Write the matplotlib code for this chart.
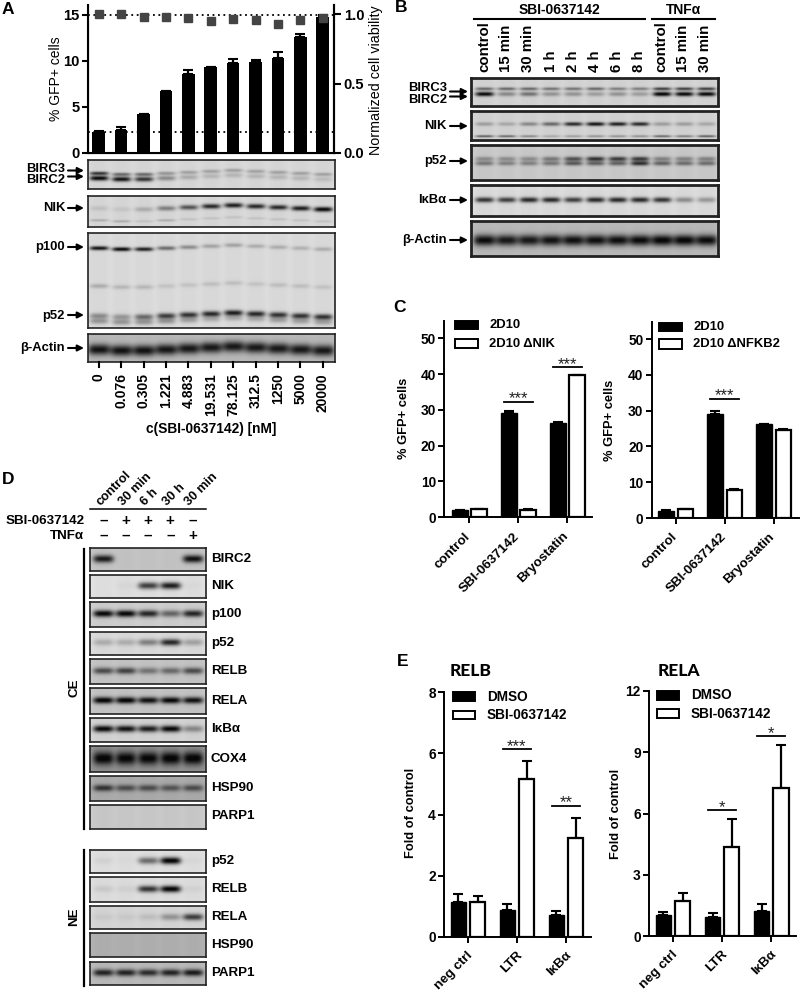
import numpy as np
import matplotlib
matplotlib.use("Agg")
import matplotlib.pyplot as plt

W, H = 800, 993
plt.rcParams["font.family"] = ["Liberation Sans", "DejaVu Sans"]
plt.rcParams["font.weight"] = "bold"
plt.rcParams["axes.unicode_minus"] = False

# panel A
A_DOSES = ["0", "0.076", "0.305", "1.221", "4.883", "19.531", "78.125", "312.5", "1250", "5000", "20000"]
A_GFP = [2.3, 2.5, 4.2, 6.7, 8.6, 9.3, 9.7, 9.85, 10.3, 12.6, 14.7]
A_GFP_ERR = [0.05, 0.3, 0.05, 0.05, 0.4, 0.05, 0.5, 0.25, 0.65, 0.3, 0.2]
A_VIAB = [1.0, 1.0, 0.976, 0.981, 0.974, 0.947, 0.967, 0.955, 0.928, 0.957, 0.969]

A_BIRC3 = [0.75, 0.5, 0.5, 0.3, 0.25, 0.25, 0.25, 0.25, 0.25, 0.25, 0.25]
A_BIRC2 = [0.95, 0.9, 0.75, 0.35, 0.2, 0.15, 0.15, 0.15, 0.15, 0.15, 0.12]
A_NIK = [0.1, 0.08, 0.2, 0.4, 0.6, 0.8, 0.85, 0.8, 0.8, 0.85, 0.95]
A_NIK_LOW = [0.2, 0.2, 0.1, 0.2, 0.1, 0.1, 0.1, 0.1, 0.1, 0.1, 0.1]
A_P100 = [0.9, 0.95, 0.85, 0.5, 0.35, 0.25, 0.25, 0.2, 0.2, 0.18, 0.2]
A_MID = [0.2, 0.15, 0.15, 0.1, 0.1, 0.12, 0.12, 0.1, 0.12, 0.12, 0.1]
A_P52 = [0.35, 0.3, 0.5, 0.7, 0.75, 0.8, 0.85, 0.8, 0.75, 0.75, 0.75]
A_P52_LOW = [0.3, 0.3, 0.3, 0.3, 0.25, 0.2, 0.2, 0.2, 0.25, 0.25, 0.25]
A_ACTIN = [0.88, 0.88, 0.88, 0.86, 0.85, 0.85, 0.85, 0.85, 0.85, 0.85, 0.85]

# panel B
B_LANES = ["control", "15 min", "30 min", "1 h", "2 h", "4 h", "6 h", "8 h", "control", "15 min", "30 min"]
B_BIRC3 = [0.5, 0.5, 0.5, 0.45, 0.45, 0.5, 0.4, 0.4, 0.7, 0.7, 0.7]
B_BIRC2 = [0.95, 0.35, 0.45, 0.3, 0.3, 0.25, 0.3, 0.25, 0.98, 0.95, 0.95]
B_NIK = [0.25, 0.2, 0.35, 0.5, 0.8, 0.9, 0.85, 0.8, 0.25, 0.25, 0.2]
B_NIK_LOW = [0.55, 0.5, 0.35, 0.2, 0.25, 0.3, 0.3, 0.3, 0.5, 0.4, 0.55]
B_P52_UP = [0.3, 0.3, 0.3, 0.4, 0.6, 0.75, 0.7, 0.7, 0.35, 0.35, 0.35]
B_P52_LOW = [0.4, 0.35, 0.35, 0.4, 0.55, 0.5, 0.5, 0.75, 0.5, 0.45, 0.45]
B_IKB = [0.75, 0.7, 0.8, 0.8, 0.7, 0.8, 0.8, 0.8, 0.75, 0.35, 0.3]
B_ACTIN = [0.92, 0.85, 0.85, 0.88, 0.9, 0.9, 0.9, 0.92, 0.95, 0.95, 0.92]

# panel C
C_GROUPS = ["control", "SBI-0637142", "Bryostatin"]
C1_WT = [2.0, 29.0, 26.2]
C1_WT_ERR = [0.1, 0.8, 0.3]
C1_KO = [2.3, 2.1, 39.8]
C1_KO_ERR = [0.05, 0.1, 0.05]
C2_WT = [2.0, 29.0, 26.2]
C2_WT_ERR = [0.1, 0.8, 0.2]
C2_KO = [2.4, 7.8, 24.5]
C2_KO_ERR = [0.2, 0.4, 0.5]

# panel D
D_LANES = ["control", "30 min", "6 h", "30 h", "30 min"]
D_SBI = ["–", "+", "+", "+", "–"]
D_TNF = ["–", "–", "–", "–", "+"]
D_NAMES_CE = ["BIRC2", "NIK", "p100", "p52", "RELB", "RELA", "IκBα", "COX4", "HSP90", "PARP1"]
D_BANDS_CE = [
    [0.85, 0, 0, 0, 0.9],
    [0, 0.03, 0.7, 0.85, 0.02],
    [0.95, 0.95, 0.8, 0.5, 0.8],
    [0.2, 0.2, 0.4, 0.8, 0.25],
    [0.6, 0.65, 0.4, 0.45, 0.6],
    [0.98, 0.98, 0.9, 0.95, 0.9],
    [0.95, 0.9, 0.85, 0.95, 0.35],
    [0.98, 0.95, 0.95, 0.98, 0.98],
    [0.7, 0.55, 0.55, 0.5, 0.55],
    [0, 0, 0, 0, 0],
]
D_NAMES_NE = ["p52", "RELB", "RELA", "HSP90", "PARP1"]
D_BANDS_NE = [
    [0.05, 0.02, 0.5, 0.98, 0.03],
    [0.08, 0.05, 0.75, 0.98, 0.04],
    [0.05, 0.05, 0.1, 0.3, 0.7],
    [0, 0, 0, 0, 0],
    [0.8, 0.8, 0.75, 0.8, 0.85],
]

# panel E
E_GROUPS = ["neg ctrl", "LTR", "IκBα"]
E1_DMSO = [1.15, 0.87, 0.72]
E1_DMSO_ERR = [0.25, 0.2, 0.12]
E1_SBI = [1.13, 5.15, 3.22]
E1_SBI_ERR = [0.2, 0.6, 0.68]
E2_DMSO = [1.05, 0.92, 1.22]
E2_DMSO_ERR = [0.12, 0.2, 0.35]
E2_SBI = [1.72, 4.35, 7.25]
E2_SBI_ERR = [0.38, 1.4, 2.1]


def px_axes(x0, y0, x1, y1):
    return fig.add_axes([x0 / W, 1 - y1 / H, (x1 - x0) / W, (y1 - y0) / H])


def draw_blot(box, first, step, bg, bands, shift=None, edge=1.2, lane_w=0.42):
    # bands: (y fraction, sigma in px, intensity per lane)
    x0, y0, x1, y1 = box
    nx, ny = int(round(x1 - x0)) * 2, int(round(y1 - y0)) * 2
    xs = x0 + (np.arange(nx) + 0.5) / 2
    ys = (np.arange(ny) + 0.5) / 2
    dark = np.zeros((ny, nx))
    n = len(bands[0][2])
    for i in range(n):
        cx = first + i * step
        prof = np.exp(-(((xs - cx) / (lane_w * step)) ** 4))
        dy = shift[i] if shift is not None else 0
        dark += 0.03 * prof[None, :]
        for frac, sig, vals in bands:
            yc = frac * (y1 - y0) + dy
            dark += vals[i] * np.exp(-(((ys - yc) / sig) ** 2))[:, None] * prof[None, :]
    img = np.clip(bg * (1 - dark), 0.03, 1)
    ax = px_axes(x0, y0, x1, y1)
    ax.imshow(img, cmap="gray", vmin=0, vmax=1, aspect="auto", interpolation="bilinear")
    ax.set_xticks([])
    ax.set_yticks([])
    for s in ax.spines.values():
        s.set_linewidth(edge)
        s.set_color("#222222")
    return ax


def arrow(x0, x1, y):
    over.annotate("", xy=(x1, y), xytext=(x0, y),
                  arrowprops=dict(arrowstyle="-|>", color="k", lw=1.5, shrinkA=0, shrinkB=0, mutation_scale=9))


def grouped_bars(box, xlim, ylim, yticks, fs, names, black, black_err, white, white_err, ylabel_xy, ylabel, nudge):
    ax = px_axes(*box)
    pos = np.arange(len(names))
    off, bw = 0.196, 0.315
    ax.bar(pos - off, black, bw, color="k", edgecolor="k", linewidth=1.0)
    ax.bar(pos + off, white, bw, color="w", edgecolor="k", linewidth=1.6)
    ax.errorbar(pos - off, black, yerr=[np.zeros(3), black_err], fmt="none", ecolor="k", elinewidth=1.6, capsize=3.5, capthick=1.5)
    ax.errorbar(pos + off, white, yerr=[np.zeros(3), white_err], fmt="none", ecolor="k", elinewidth=1.6, capsize=3.5, capthick=1.5)
    ax.set_xlim(*xlim)
    ax.set_ylim(*ylim)
    ax.set_yticks(yticks)
    ax.set_xticks(pos)
    ax.set_xticklabels([])
    # tick labels sit a bit off the ticks in the original, so place them by hand
    for p, name in zip(pos, names):
        ax.annotate(name, (p, 0), xytext=nudge, textcoords="offset pixels", rotation=45,
                    ha="right", va="top", rotation_mode="anchor", fontsize=fs, annotation_clip=False)
    ax.tick_params(axis="y", labelsize=fs + 0.3, width=1.4, length=4, pad=2)
    ax.tick_params(axis="x", width=1.4, length=4, pad=3)
    ax.spines["top"].set_visible(False)
    ax.spines["right"].set_visible(False)
    ax.spines["left"].set_linewidth(1.4)
    ax.spines["bottom"].set_linewidth(1.4)
    ax.patch.set_alpha(0)
    over.text(ylabel_xy[0], ylabel_xy[1], ylabel, rotation=90, ha="center", va="center", fontsize=9.3)
    return ax


def sig(ax, group, y, stars):
    ax.plot([group - 0.29, group + 0.29], [y, y], color="k", lw=1.3, clip_on=False)
    ax.annotate(stars, (group, y), xytext=(0, -3.5), textcoords="offset points", ha="center", va="bottom",
                fontsize=12, fontweight="normal", color="#222222", annotation_clip=False)


def legend(x0, x1, boxes, labels, tx, fs=9.4):
    for (y0, y1), lab, col in zip(boxes, labels, ["k", "w"]):
        over.add_patch(plt.Rectangle((x0, y0), x1 - x0, y1 - y0, facecolor=col, edgecolor="k", lw=1.4))
        over.text(tx, (y0 + y1) / 2, lab, ha="left", va="center", fontsize=fs)


fig = plt.figure(figsize=(W / 100, H / 100), dpi=100)
over = fig.add_axes([0, 0, 1, 1], zorder=10)
over.set_xlim(0, W)
over.set_ylim(H, 0)
over.axis("off")

for letter, x, y in [("A", 2, 9), ("B", 395, 8), ("C", 393, 308), ("D", 2, 479), ("E", 397, 662)]:
    over.text(x, y, letter, fontsize=12.5, ha="left", va="center")

# ---- A: dose response
ax = px_axes(88, 5, 334, 153)
lanes_a = np.arange(len(A_DOSES))
ax.bar(lanes_a, A_GFP, 0.565, color="k")
ax.errorbar(lanes_a, A_GFP, yerr=[np.zeros(11), A_GFP_ERR], fmt="none", ecolor="k", elinewidth=1.6, capsize=3.5, capthick=1.5)
ax.set_xlim(-0.478, 10.5)
ax.set_ylim(0, 16.03)
ax.axhline(15, color="k", ls=(0, (1, 2)), lw=1.3)
ax.axhline(2.3, color="k", ls=(0, (1, 2)), lw=1.3)
ax.set_yticks([0, 5, 10, 15])
ax.set_xticks([])
ax.tick_params(axis="y", labelsize=10.6, width=1.5, length=4, pad=2)
ax.set_ylabel("% GFP+ cells", fontsize=10, labelpad=0.5)
ax.spines["top"].set_visible(False)
ax.spines["left"].set_linewidth(1.5)
ax.spines["bottom"].set_linewidth(1.5)
ax.spines["right"].set_linewidth(1.5)
ax2 = ax.twinx()
ax2.plot(lanes_a, A_VIAB, ls="none", marker="s", ms=5.6, color="#444444", zorder=5)
ax2.set_ylim(0, 1.065)
ax2.set_yticks([0, 0.5, 1.0])
ax2.set_yticklabels(["0.0", "0.5", "1.0"])
ax2.tick_params(axis="y", labelsize=10.6, width=1.5, length=5, pad=2)
ax2.set_ylabel("Normalized cell viability", fontsize=10.3, labelpad=3, y=0.49)
ax2.spines["top"].set_visible(False)
ax2.spines["right"].set_linewidth(1.5)

SMILE = [1, 2, 2, 1, 0, -1, -2, -1, 0, 1, 2]
draw_blot((87.5, 160.3, 334.5, 189), 98.7, 22.4, 0.86,
          [(0.43, 1.7, A_BIRC3), (0.6, 2.4, A_BIRC2)], SMILE)
draw_blot((87.5, 196, 334.5, 226.7), 98.7, 22.4, 0.86,
          [(0.37, 2.4, A_NIK), (0.76, 1.2, A_NIK_LOW)], SMILE)
draw_blot((87.5, 233, 334.5, 327.7), 98.7, 22.4, 0.87,
          [(0.15, 2.0, A_P100), (0.55, 2.2, A_MID), (0.865, 2.8, A_P52), (0.92, 2.8, A_P52_LOW)], SMILE)
draw_blot((87.5, 334, 334.5, 362), 98.7, 22.4, 0.74,
          [(0.52, 5.5, A_ACTIN)], SMILE, lane_w=0.5)

for i, dose in enumerate(A_DOSES):
    x = 98.7 + i * 22.4
    over.plot([x, x], [362, 367], color="k", lw=1.5)
    over.text(x, 373, dose, rotation=90, ha="center", va="top", fontsize=10)
over.text(211, 429, "c(SBI-0637142) [nM]", ha="center", va="center", fontsize=9.9)

for name, y in [("BIRC3", 169), ("BIRC2", 180), ("NIK", 208), ("p100", 247), ("p52", 316), ("β-Actin", 348)]:
    over.text(65, y, name, ha="right", va="center", fontsize=9.4)
arrow(68, 84, 170.5)
arrow(68, 84, 176.5)
for y in [208, 247, 315, 348]:
    arrow(68, 84, y)

# ---- B: time course
BOX_X = (470.7, 717.7)
draw_blot((BOX_X[0], 78, BOX_X[1], 105.5), 484.3, 22.1, 0.84,
          [(0.43, 1.5, B_BIRC3), (0.62, 2.2, B_BIRC2)], edge=2)
draw_blot((BOX_X[0], 111, BOX_X[1], 140), 484.3, 22.1, 0.84,
          [(0.45, 1.9, B_NIK), (0.87, 1.1, B_NIK_LOW)], edge=2)
draw_blot((BOX_X[0], 145.3, BOX_X[1], 180), 484.3, 22.1, 0.8,
          [(0.4, 2.2, B_P52_UP), (0.53, 2.2, B_P52_LOW)], edge=2)
draw_blot((BOX_X[0], 185, BOX_X[1], 216), 484.3, 22.1, 0.87,
          [(0.48, 2.6, B_IKB)], edge=2)
draw_blot((BOX_X[0], 220.7, BOX_X[1], 255.7), 484.3, 22.1, 0.74,
          [(0.55, 5.5, B_ACTIN)], edge=2, lane_w=0.5)
for i, lab in enumerate(B_LANES):
    over.text(484.3 + i * 22.1, 72.5, lab, rotation=90, ha="center", va="bottom", fontsize=10.8)
over.plot([474, 645], [18.7, 18.7], color="k", lw=1.5)
over.plot([651.7, 715], [18.7, 18.7], color="k", lw=1.5)
over.text(559, 9.5, "SBI-0637142", ha="center", va="center", fontsize=10)
over.text(684, 9.5, "TNFα", ha="center", va="center", fontsize=10)
for name, y in [("BIRC3", 88), ("BIRC2", 100), ("NIK", 126), ("p52", 161), ("IκBα", 200), ("β-Actin", 240)]:
    over.text(446.7, y, name, ha="right", va="center", fontsize=9.4)
arrow(450, 468, 91.5)
arrow(450, 468, 96.5)
for y in [126, 161, 200, 240]:
    arrow(450, 468, y)

# ---- C: knockout bars
ax_c1 = grouped_bars((444.3, 320.7, 591.7, 517.3), (-0.514, 2.494), (0, 54.9), range(0, 51, 10), 9.6,
                     C_GROUPS, C1_WT, C1_WT_ERR, C1_KO, C1_KO_ERR, (404, 418), "% GFP+ cells", (-5, -13))
sig(ax_c1, 1, 32.3, "***")
sig(ax_c1, 2, 41.9, "***")
legend(455, 477.7, [(320.7, 329), (339, 348.3)], ["2D10", "2D10 ΔNIK"], 489.3)

ax_c2 = grouped_bars((651.7, 321.7, 799, 518), (-0.49, 2.517), (0, 54.9), range(0, 51, 10), 9.6,
                     C_GROUPS, C2_WT, C2_WT_ERR, C2_KO, C2_KO_ERR, (610, 420), "% GFP+ cells", (-5, -13))
sig(ax_c2, 1, 33.4, "***")
legend(659.3, 682.3, [(322.7, 331), (339.3, 349)], ["2D10", "2D10 ΔNFKB2"], 693.3)

# ---- D: fractions
D_BOXES_CE = [(250, 318), (330, 400), (411, 487), (500, 571), (583, 657), (670, 747), (758, 832), (844, 921), (933, 1008), (1020, 1091)]
D_BOXES_NE = [(1154, 1224), (1236, 1311), (1323, 1392), (1405, 1477), (1490, 1560)]
D_BG_CE = [0.78, 0.89, 0.82, 0.87, 0.78, 0.78, 0.84, 0.58, 0.68, 0.8]
D_BG_NE = [0.89, 0.88, 0.85, 0.7, 0.74]

for names, boxes, bgs, bands in [(D_NAMES_CE, D_BOXES_CE, D_BG_CE, D_BANDS_CE),
                                 (D_NAMES_NE, D_BOXES_NE, D_BG_NE, D_BANDS_NE)]:
    for name, (z0, z1), bg, vals in zip(names, boxes, bgs, bands):
        y0, y1 = 465 + z0 / 3, 465 + z1 / 3
        sigma = 6.5 if name == "COX4" else 3.3
        if name == "BIRC2":
            sigma = 3.8
        draw_blot((90.3, y0, 205.7, y1), 103.7, 22.2, bg, [(0.48, sigma, vals)], lane_w=0.46)
        over.text(210.7, (y0 + y1) / 2 - 0.5, name, ha="left", va="center", fontsize=9.6)

over.plot([84, 84], [549, 829], color="k", lw=1.6)
over.plot([84, 84], [850, 986], color="k", lw=1.6)
over.text(74, 688, "CE", rotation=90, ha="center", va="center", fontsize=9.6)
over.text(74, 917, "NE", rotation=90, ha="center", va="center", fontsize=9.6)
over.plot([90.3, 205.7], [509.3, 509.3], color="k", lw=1.1)
for i, lab in enumerate(D_LANES):
    x = 103.7 + i * 22.2
    over.text(x - 1, 508, lab, rotation=45, ha="left", va="bottom", rotation_mode="anchor", fontsize=9.3)
    over.text(x, 520.7, D_SBI[i], ha="center", va="center", fontsize=11)
    over.text(x, 536, D_TNF[i], ha="center", va="center", fontsize=11)
over.text(84.5, 520.7, "SBI-0637142", ha="right", va="center", fontsize=9.6)
over.text(84.5, 536, "TNFα", ha="right", va="center", fontsize=9.6)

# ---- E: ChIP bars
ax_e1 = grouped_bars((444, 692, 590.7, 937), (-0.49, 2.505), (0, 8), range(0, 9, 2), 9.6,
                     E_GROUPS, E1_DMSO, E1_DMSO_ERR, E1_SBI, E1_SBI_ERR, (411, 813), "Fold of control", (-1, -12))
sig(ax_e1, 1, 6.14, "***")
sig(ax_e1, 2, 4.29, "**")
legend(452.7, 475, [(692.3, 701), (710.7, 719)], ["DMSO", "SBI-0637142"], 486.7, fs=9.8)
over.text(450, 670.7, "RELB", ha="left", va="center", fontsize=12.5, family="Lato", fontweight="black")

ax_e2 = grouped_bars((649, 691, 796, 936.3), (-0.49, 2.505), (0, 12), range(0, 13, 3), 9.6,
                     E_GROUPS, E2_DMSO, E2_DMSO_ERR, E2_SBI, E2_SBI_ERR, (616, 814), "Fold of control", (-1, -12))
sig(ax_e2, 1, 6.19, "*")
sig(ax_e2, 2, 9.81, "*")
legend(656.7, 679, [(691, 699.7), (709.3, 717.7)], ["DMSO", "SBI-0637142"], 690.7, fs=9.8)
over.text(657.3, 670.7, "RELA", ha="left", va="center", fontsize=12.5, family="Lato", fontweight="black")

fig.savefig("out.png", dpi=100)
plt.close(fig)
